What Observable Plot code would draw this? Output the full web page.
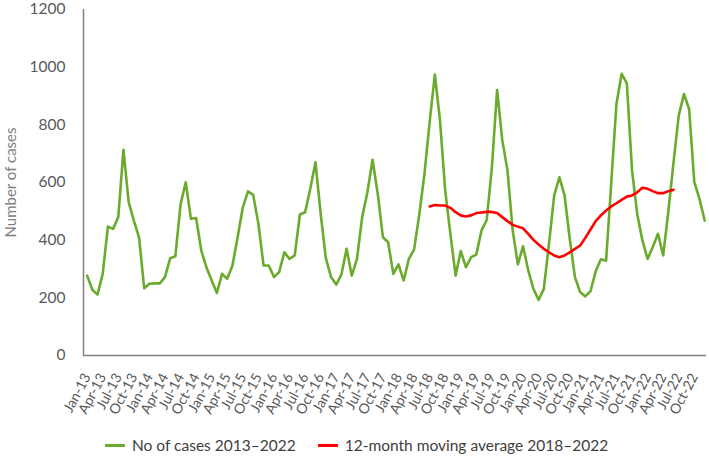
<!DOCTYPE html>
<html>
<head>
<meta charset="utf-8">
<script src="https://cdn.jsdelivr.net/npm/d3@7"></script>
<script src="https://cdn.jsdelivr.net/npm/@observablehq/plot@0.6"></script>
<style>
  html, body { margin: 0; padding: 0; background: #fff; }
  body { width: 709px; height: 462px; overflow: hidden; font-family: Lato, "Open Sans", sans-serif; }
  #legend { display: flex; align-items: center; height: 34px; font-size: 15.5px; color: #404040; padding-left: 105px; }
  .sw { display: inline-block; width: 20px; height: 3px; margin-right: 7px; }
  .item { display: flex; align-items: center; margin-right: 22px; }
</style>
</head>
<body>
<div id="chart"></div>
<div id="legend"></div>
<script>
// Monthly number of cases, Jan–Dec of each year
const cases2013 = [277, 228, 211, 283, 447, 439, 480, 713, 532, 468, 410, 233];
const cases2014 = [249, 250, 250, 272, 337, 344, 524, 601, 474, 477, 364, 305];
const cases2015 = [260, 217, 283, 266, 312, 410, 514, 569, 557, 457, 312, 312];
const cases2016 = [272, 289, 358, 335, 347, 489, 497, 578, 670, 491, 338, 272];
const cases2017 = [246, 281, 370, 277, 335, 480, 565, 679, 561, 410, 393, 283];
const cases2018 = [316, 260, 335, 367, 488, 630, 809, 974, 815, 572, 422, 277];
const cases2019 = [362, 306, 341, 350, 434, 470, 653, 921, 746, 642, 434, 316];
const cases2020 = [379, 295, 231, 193, 231, 387, 555, 618, 555, 405, 272, 220];
const cases2021 = [205, 223, 292, 334, 329, 600, 873, 977, 944, 642, 491, 399];
const cases2022 = [335, 376, 422, 347, 500, 670, 832, 907, 855, 601, 543, 468];

// 12-month moving average, Jul-18 .. Jun-22
const movingAvgStart = 66; // month index of Jul-18 (Jan-13 = 0)
const movingAvg = [517, 522, 520, 520, 512, 497, 486, 482, 486, 494, 496, 498,
                   498, 494, 480, 466, 453, 447, 441, 422, 401, 385, 370, 358,
                   347, 341, 347, 358, 370, 381, 408, 437, 466, 486, 503, 517,
                   528, 540, 551, 555, 566, 582, 578, 570, 563, 563, 570, 575];

const tickLabels = ["Jan-13","Apr-13","Jul-13","Oct-13","Jan-14","Apr-14","Jul-14","Oct-14",
  "Jan-15","Apr-15","Jul-15","Oct-15","Jan-16","Apr-16","Jul-16","Oct-16",
  "Jan-17","Apr-17","Jul-17","Oct-17","Jan-18","Apr-18","Jul-18","Oct-18",
  "Jan-19","Apr-19","Jul-19","Oct-19","Jan-20","Apr-20","Jul-20","Oct-20",
  "Jan-21","Apr-21","Jul-21","Oct-21","Jan-22","Apr-22","Jul-22","Oct-22"];
const yTicks = [0, 200, 400, 600, 800, 1000, 1200];

const seriesNames = ["No of cases 2013\u20132022", "12-month moving average 2018\u20132022"];
const seriesColors = ["#6aab2e", "#ff0000"];

const allCases = [cases2013, cases2014, cases2015, cases2016, cases2017,
                  cases2018, cases2019, cases2020, cases2021, cases2022].flat();
const casesData = allCases.map((v, i) => ({i, v}));
const avgData = movingAvg.map((v, k) => ({i: movingAvgStart + k, v}));
const tickIdx = tickLabels.map((_, k) => k * 3);

const chart = Plot.plot({
  width: 709,
  height: 428,
  marginLeft: 83,
  marginRight: 3,
  marginTop: 9,
  marginBottom: 73,
  style: {fontFamily: "Lato, 'Open Sans', sans-serif", background: "#fff", color: "#404040"},
  x: {type: "linear", domain: [-0.7, 119.35]},
  y: {domain: [0, 1200]},
  marks: [
    Plot.axisY({ticks: yTicks, tickFormat: (d) => String(d), tickSize: 0, tickPadding: 18, fontSize: 15.5, fill: "#595959",
      label: "Number of cases", labelAnchor: "center", labelArrow: "none", labelOffset: 78}),
    Plot.axisX({ticks: tickIdx, tickFormat: (d) => tickLabels[Math.round(d / 3)], tickSize: 0,
      tickPadding: 19, tickRotate: -62, fontSize: 14, fill: "#595959", label: null}),
    Plot.ruleX([-0.7], {stroke: "#808080", strokeWidth: 1.5}),
    Plot.ruleY([0], {stroke: "#808080", strokeWidth: 1.5}),
    Plot.line(casesData, {x: "i", y: "v", stroke: seriesColors[0], strokeWidth: 2.6}),
    Plot.line(avgData, {x: "i", y: "v", stroke: seriesColors[1], strokeWidth: 2.6})
  ]
});
document.getElementById("chart").appendChild(chart);
// style the y-axis label
chart.querySelectorAll("g[aria-label='y-axis label'] text").forEach(t => { t.style.fill = "#808080"; t.style.fontSize = "15px"; });

const legend = document.getElementById("legend");
seriesNames.forEach((name, k) => {
  const it = document.createElement("div");
  it.className = "item";
  const sw = document.createElement("span");
  sw.className = "sw";
  sw.style.background = seriesColors[k];
  it.appendChild(sw);
  it.appendChild(document.createTextNode(name));
  legend.appendChild(it);
});
</script>
</body>
</html>
